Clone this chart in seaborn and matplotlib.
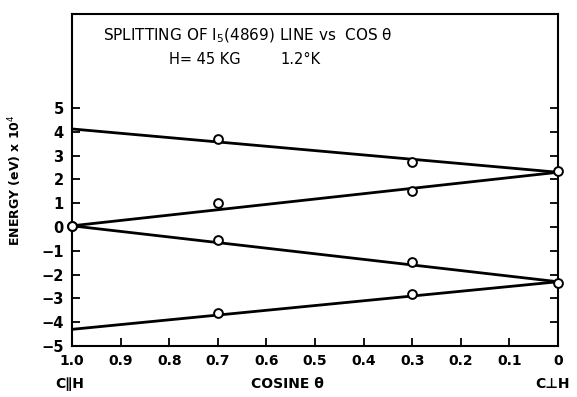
import matplotlib
matplotlib.use("Agg")
import matplotlib.pyplot as plt
import seaborn as sns
import pandas as pd

# measured points (cosine theta, energy x1e4 eV)
cos_pts = [1.0, 0.7, 0.3, 0.0,
           1.0, 0.7, 0.3,
           0.7, 0.3, 0.0,
           0.7, 0.3]
energy_pts = [0.05, 3.7, 2.75, 2.35,
              0.05, 1.0, 1.5,
              -0.55, -1.45, -2.35,
              -3.6, -2.8]

# fitted straight lines (endpoints at cos=1 and cos=0)
fit_x = [1.0, 0.0]
fit_a = [4.12, 2.3]
fit_b = [0.05, 2.3]
fit_c = [0.05, -2.3]
fit_d = [-4.3, -2.3]

xticks = [1.0, 0.9, 0.8, 0.7, 0.6, 0.5, 0.4, 0.3, 0.2, 0.1, 0.0]
xticklabels = ["1.0", "0.9", "0.8", "0.7", "0.6", "0.5", "0.4", "0.3", "0.2", "0.1", "0"]
yticks = [-5, -4, -3, -2, -1, 0, 1, 2, 3, 4, 5]

sns.set_theme(style="white")
plt.rcParams['font.family'] = ['DejaVu Sans']
plt.rcParams['text.color'] = 'black'
plt.rcParams['axes.labelcolor'] = 'black'

fig = plt.figure(figsize=(5.77, 3.97), dpi=100)
ax = fig.add_axes([72/577, 1-346/397, (558-72)/577, (346-14)/397])

lines = pd.DataFrame({
    "x": fit_x * 4,
    "y": fit_a + fit_b + fit_c + fit_d,
    "g": ["a"]*2 + ["b"]*2 + ["c"]*2 + ["d"]*2,
})
sns.lineplot(data=lines, x="x", y="y", units="g", estimator=None,
             color="black", linewidth=2.0, ax=ax, legend=False)

pts = pd.DataFrame({"x": cos_pts, "y": energy_pts})
sns.scatterplot(data=pts, x="x", y="y", s=40, facecolor="white",
                edgecolor="black", linewidth=1.4, ax=ax, zorder=5,
                clip_on=False, legend=False)

ax.set_xlim(1.0, 0.0)
ax.set_ylim(-5, 8.95)
ax.set_xticks(xticks)
ax.set_xticklabels(xticklabels, fontsize=10, fontweight="bold")
ax.set_yticks(yticks)
ax.set_yticklabels([str(v).replace("-", "\u2212") for v in yticks],
                   fontsize=10.5, fontweight="bold")
ax.tick_params(axis="both", direction="in", length=6, width=1.3,
               color="black", labelcolor="black", pad=6)
ax.tick_params(axis="y", right=True, left=True, labelright=False)
ax.tick_params(axis="x", top=False, bottom=True)
for s in ax.spines.values():
    s.set_color("black")
    s.set_linewidth(1.5)
ax.set_xlabel("")
ax.set_ylabel("ENERGY (eV) x 10$^{4}$", fontsize=9, fontweight="bold",
              labelpad=12, color="black")

fig.text(248/577, 1-36/397, "SPLITTING OF I$_5$(4869) LINE vs  COS \u03b8",
         ha="center", va="center", fontsize=11, color="black")
fig.text(205/577, 1-60/397, "H= 45 KG", ha="center", va="center",
         fontsize=10.5, color="black")
fig.text(300/577, 1-60/397, "1.2\u00b0K", ha="center", va="center",
         fontsize=10.5, color="black")

fig.text(70/577, 1-384/397, "C\u2225H", ha="center", va="center",
         fontsize=10, fontweight="bold", color="black")
fig.text(287/577, 1-384/397, "COSINE \u03b8", ha="center", va="center",
         fontsize=10, fontweight="bold", color="black")
fig.text(553/577, 1-384/397, "C\u22a5H", ha="center", va="center",
         fontsize=10, fontweight="bold", color="black")

fig.savefig("out.png", dpi=100, facecolor="white")
